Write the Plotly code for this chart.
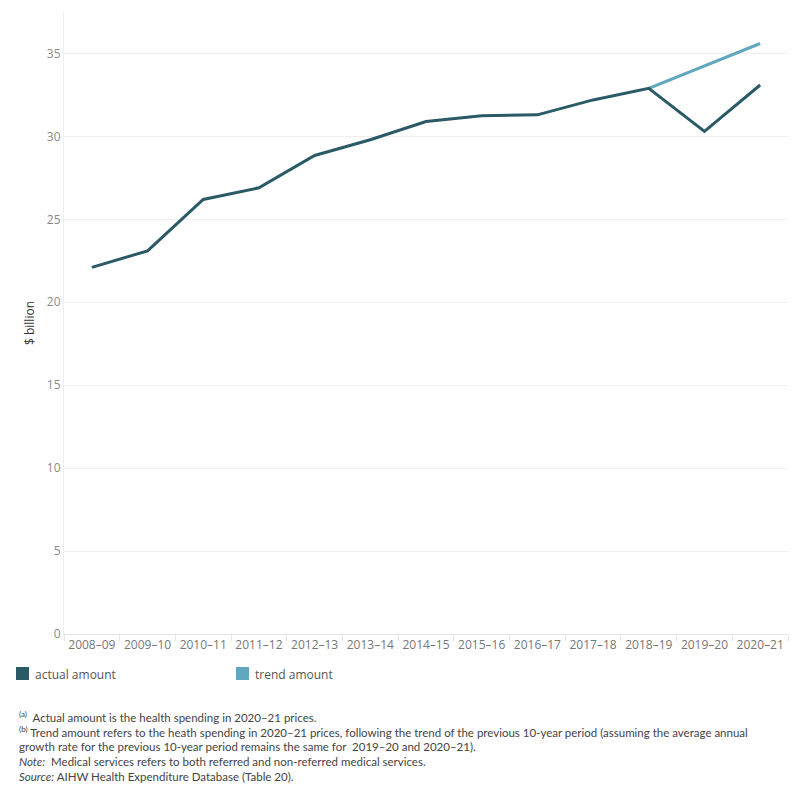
import plotly.graph_objects as go

years = ["2008–09", "2009–10", "2010–11", "2011–12", "2012–13", "2013–14", "2014–15",
         "2015–16", "2016–17", "2017–18", "2018–19", "2019–20", "2020–21"]
actual = [22.1, 23.1, 26.2, 26.9, 28.85, 29.8, 30.9, 31.25, 31.3, 32.2, 32.9, 30.3, 33.1]
trend_years = ["2018–19", "2019–20", "2020–21"]
trend = [32.9, 34.25, 35.6]
y_ticks = [0, 5, 10, 15, 20, 25, 30, 35]

c_actual = "#2b5a67"
c_trend = "#5fa8bf"
font = "Open Sans"
note_font = "Lato"

xi = list(range(len(years)))
txi = [years.index(y) for y in trend_years]

fig = go.Figure()
fig.add_trace(go.Scatter(x=txi, y=trend, mode="lines", line=dict(color=c_trend, width=3),
                         name="trend amount", showlegend=False, hoverinfo="skip"))
fig.add_trace(go.Scatter(x=xi, y=actual, mode="lines", line=dict(color=c_actual, width=3),
                         name="actual amount", showlegend=False))
# invisible trace to drive the separator-tick axis
fig.add_trace(go.Scatter(x=[-0.5, len(years) - 0.5], y=[None, None], xaxis="x2",
                         showlegend=False, hoverinfo="skip"))

fig.update_layout(
    width=800, height=800,
    margin=dict(l=64, r=12, t=12, b=166),
    paper_bgcolor="white", plot_bgcolor="white",
    font=dict(family=font, color="#666666"),
    xaxis=dict(range=[-0.5, len(years) - 0.5], tickmode="array", tickvals=xi, ticktext=years,
               showgrid=False, zeroline=False, showline=True, linecolor="#e6e6e6", linewidth=1,
               ticks="", tickfont=dict(size=12, color="#777777"), fixedrange=True),
    xaxis2=dict(range=[-0.5, len(years) - 0.5], overlaying="x", side="bottom",
                tickmode="array", tickvals=[i - 0.5 for i in range(len(years) + 1)],
                showticklabels=False, ticks="outside", ticklen=6, tickcolor="#e6e6e6",
                showgrid=False, zeroline=False, showline=False),
    yaxis=dict(range=[0, 37.5], tickmode="array", tickvals=y_ticks,
               showgrid=True, gridcolor="#efefef", gridwidth=1, zeroline=False,
               showline=True, linecolor="#eeeeee", linewidth=1,
               ticks="", tickfont=dict(size=12, color="#8a8a8a"),
               title=dict(text="$ billion", font=dict(size=12, color="#333333"), standoff=9)),
    showlegend=False,
)

# custom legend
legend_items = [("actual amount", c_actual, 16), ("trend amount", c_trend, 236)]
for label, col, x0 in legend_items:
    fig.add_shape(type="rect", xref="paper", yref="paper",
                  x0=(x0 - 64) / 724, x1=(x0 + 13 - 64) / 724,
                  y0=(634 - 680) / 622, y1=(634 - 667) / 622,
                  fillcolor=col, line=dict(width=0))
    fig.add_annotation(text=label, xref="paper", yref="paper", x=(x0 + 17 - 64) / 724,
                       y=(634 - 674) / 622, xanchor="left", yanchor="middle", showarrow=False,
                       font=dict(size=12, color="#555555", family=font))

notes = [
    "<sup>(a)</sup>  Actual amount is the health spending in 2020–21 prices.",
    "<sup>(b)</sup> Trend amount refers to the heath spending in 2020–21 prices, following the trend of the previous 10-year period (assuming the average annual",
    "growth rate for the previous 10-year period remains the same for  2019–20 and 2020–21).",
    "<i>Note:</i>  Medical services refers to both referred and non-referred medical services.",
    "<i>Source:</i> AIHW Health Expenditure Database (Table 20).",
]
for i, t in enumerate(notes):
    fig.add_annotation(text=t, xref="paper", yref="paper", x=(17 - 64) / 724,
                       y=(634 - (716 + 15 * i)) / 622, xanchor="left", yanchor="middle",
                       showarrow=False, font=dict(size=11.5, color="#444444", family=note_font))

fig.write_html("out.html")
